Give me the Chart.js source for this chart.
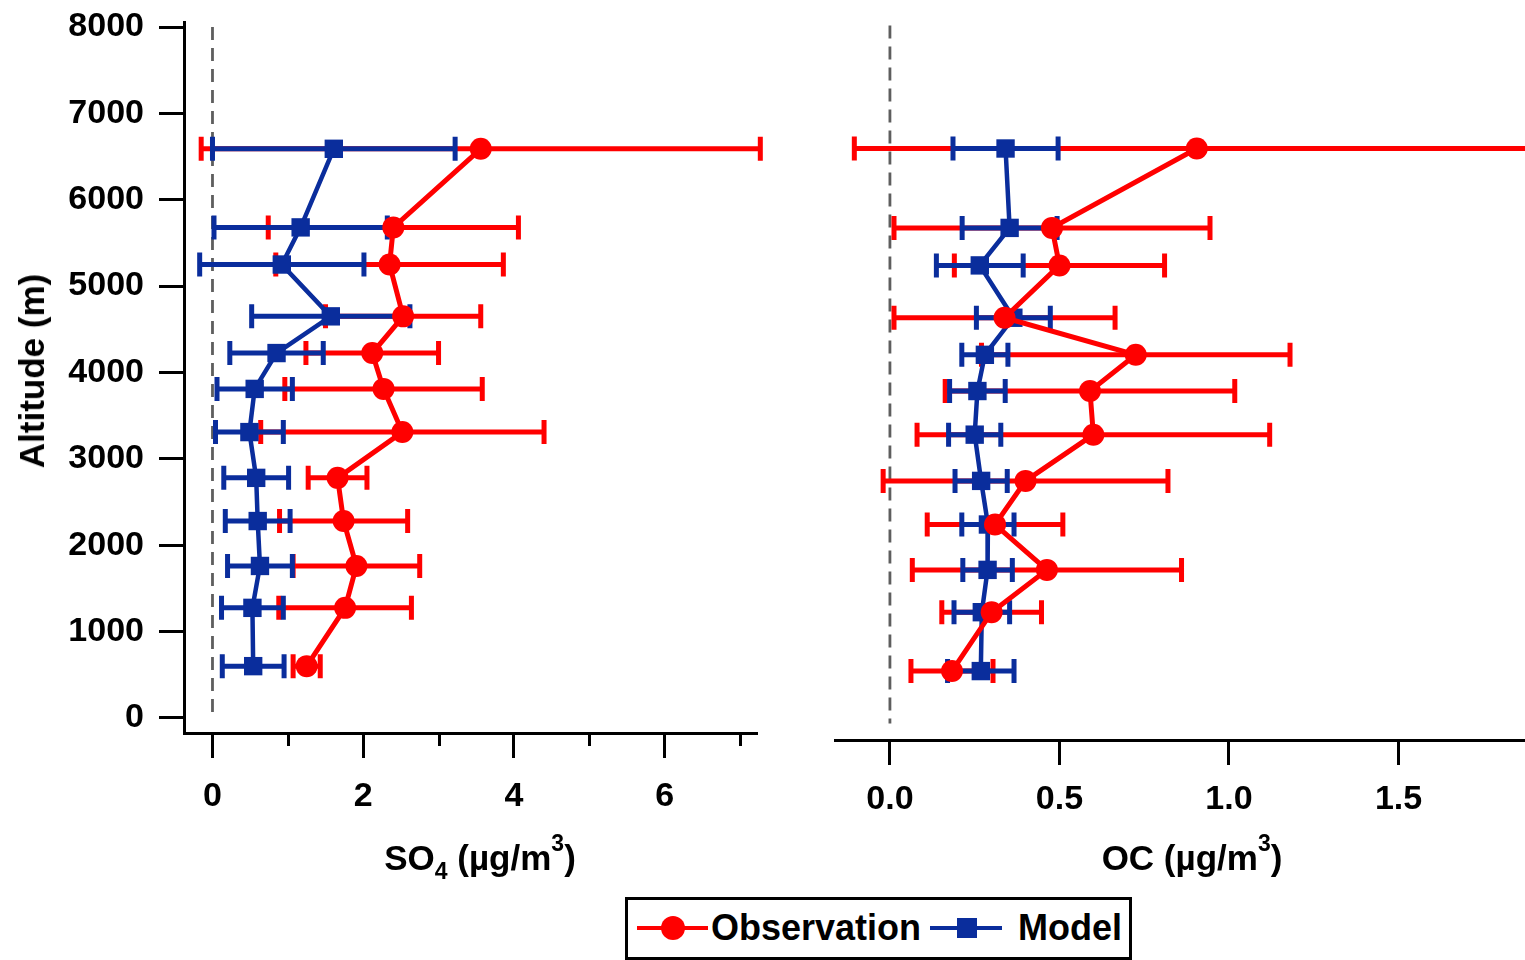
<!DOCTYPE html>
<html>
<head>
<meta charset="utf-8">
<title>SO4 / OC vertical profiles</title>
<script src="https://cdn.jsdelivr.net/npm/chart.js@4.4.1/dist/chart.umd.min.js"></script>
<style>
  html, body { margin: 0; padding: 0; background: #fff; }
  body {
    width: 1525px; height: 960px; overflow: hidden; position: relative;
    font-family: "Liberation Sans", Arial, sans-serif; font-weight: bold; color: #000;
  }
  .panel { position: absolute; top: 0; height: 960px; }
  .xtitle {
    position: absolute; font-size: 35px; line-height: 40px; white-space: nowrap;
    transform: translate(-50%, -50%);
  }
  .xtitle sub, .xtitle sup { font-size: 23px; position: relative; vertical-align: baseline; }
  .xtitle sub { top: 9px; }
  .xtitle sup { top: -19px; }
  .ytitle {
    position: absolute; left: 32px; top: 371px; font-size: 35px; line-height: 40px;
    white-space: nowrap; transform: translate(-50%, -50%) rotate(-90deg);
  }
  #legend {
    position: absolute; left: 625px; top: 897px; width: 501px; height: 57px;
    border: 3px solid #000; background: #fff;
  }
  #legend span { position: absolute; display: block; }
  .lg-text { font-size: 36px; line-height: 40px; top: 8px; white-space: nowrap; }
</style>
</head>
<body>

<div class="panel" style="left:0;width:790px"><canvas id="so4Chart"></canvas></div>
<div class="panel" style="left:790px;width:760px"><canvas id="ocChart"></canvas></div>

<div class="ytitle">Altitude (m)</div>
<div class="xtitle" style="left:480px;top:860px">SO<sub>4</sub> (µg/m<sup>3</sup>)</div>
<div class="xtitle" style="left:1192px;top:860px">OC (µg/m<sup>3</sup>)</div>

<div id="legend">
  <span style="left:9px;top:26px;width:71px;height:4px;background:#ff0000"></span>
  <span style="left:33px;top:16px;width:24px;height:24px;border-radius:50%;background:#ff0000"></span>
  <span class="lg-text" style="left:83px">Observation</span>
  <span style="left:302px;top:26px;width:72px;height:4px;background:#0a2d9c"></span>
  <span style="left:329px;top:18px;width:20px;height:20px;background:#0a2d9c"></span>
  <span class="lg-text" style="left:390px">Model</span>
</div>

<script>
// ---- data ----
const altitude = [6590, 5680, 5250, 4650, 4225, 3810, 3310, 2780, 2280, 1760, 1275, 600];

const so4Obs      = [3.56, 2.40, 2.35, 2.53, 2.12, 2.27, 2.52, 1.66, 1.74, 1.91, 1.76, 1.25];
const so4ObsErr   = [3.71, 1.66, 1.51, 1.03, 0.88, 1.31, 1.88, 0.39, 0.85, 0.84, 0.88, 0.18];
const so4Model    = [1.61, 1.17, 0.92, 1.57, 0.85, 0.56, 0.49, 0.58, 0.60, 0.63, 0.53, 0.54];
const so4ModelErr = [1.61, 1.15, 1.09, 1.05, 0.62, 0.50, 0.45, 0.43, 0.43, 0.43, 0.41, 0.41];

const ocObs      = [0.905, 0.478, 0.50, 0.338, 0.725, 0.59, 0.60, 0.40, 0.31, 0.463, 0.30, 0.183];
const ocObsErr   = [1.01, 0.466, 0.31, 0.326, 0.455, 0.427, 0.52, 0.42, 0.20, 0.397, 0.147, 0.121];
const ocModel    = [0.341, 0.353, 0.265, 0.364, 0.28, 0.258, 0.25, 0.269, 0.289, 0.288, 0.271, 0.268];
const ocModelErr = [0.155, 0.14, 0.128, 0.109, 0.068, 0.082, 0.077, 0.077, 0.077, 0.073, 0.082, 0.098];

const altTicks = [0, 1000, 2000, 3000, 4000, 5000, 6000, 7000, 8000];
const so4Ticks = [0, 2, 4, 6];
const so4MinorTicks = [1, 3, 5, 7];
const ocTicks = [0, 0.5, 1.0, 1.5];

// ---- styling ----
const RED = "#ff0000";
const BLUE = "#0a2d9c";
const FONT = '"Liberation Sans", Arial, sans-serif';

Chart.defaults.font.family = FONT;
Chart.defaults.font.weight = "bold";
Chart.defaults.color = "#000";

const toPoints = (xs) => xs.map((v, i) => ({ x: v, y: altitude[i] }));

// dashed zero line + horizontal error bars, drawn under the lines/markers
const errorBars = {
  id: "errorBars",
  beforeDatasetsDraw(chart) {
    const { ctx } = chart;
    const x = chart.scales.x, y = chart.scales.y;

    ctx.save();
    ctx.strokeStyle = "#5e5e5e";
    ctx.lineWidth = 2.8;
    ctx.setLineDash([13, 8]);
    ctx.beginPath();
    ctx.moveTo(x.getPixelForValue(0), y.getPixelForValue(8000));
    ctx.lineTo(x.getPixelForValue(0), y.getPixelForValue(0));
    ctx.stroke();
    ctx.restore();

    chart.data.datasets.forEach((ds) => {
      ctx.save();
      ctx.strokeStyle = ds.borderColor;
      ctx.lineWidth = 5;
      ds.data.forEach((p, i) => {
        const e = ds.errors[i];
        const py = y.getPixelForValue(p.y);
        const xl = x.getPixelForValue(p.x - e);
        const xr = x.getPixelForValue(p.x + e);
        ctx.beginPath();
        ctx.moveTo(xl, py); ctx.lineTo(xr, py);
        ctx.moveTo(xl, py - 12); ctx.lineTo(xl, py + 12);
        ctx.moveTo(xr, py - 12); ctx.lineTo(xr, py + 12);
        ctx.stroke();
      });
      ctx.restore();
    });
  },
};

// shorter minor ticks on the SO4 axis
const minorTicks = {
  id: "minorTicks",
  afterDraw(chart, args, opts) {
    if (!opts.values) return;
    const { ctx } = chart;
    const x = chart.scales.x;
    ctx.save();
    ctx.strokeStyle = "#000";
    ctx.lineWidth = 3;
    ctx.beginPath();
    opts.values.forEach((v) => {
      const px = Math.round(x.getPixelForValue(v)) + 0.5;
      ctx.moveTo(px, x.top);
      ctx.lineTo(px, x.top + 13);
    });
    ctx.stroke();
    ctx.restore();
  },
};

function datasets(obs, obsErr, model, modelErr) {
  return [
    {
      label: "Observation",
      data: toPoints(obs),
      errors: obsErr,
      showLine: true,
      borderColor: RED,
      backgroundColor: RED,
      borderWidth: 5,
      pointStyle: "circle",
      pointRadius: 11,
      pointBorderWidth: 0,
      tension: 0,
    },
    {
      label: "Model",
      data: toPoints(model),
      errors: modelErr,
      showLine: true,
      borderColor: BLUE,
      backgroundColor: BLUE,
      borderWidth: 4.5,
      pointStyle: "rect",
      pointRadius: 13,
      pointBorderWidth: 0,
      tension: 0,
    },
  ];
}

const tickFont = { size: 34, weight: "bold", family: FONT };
const axisGrid = { drawOnChartArea: false, drawTicks: true, tickLength: 25, tickWidth: 3, tickColor: "#000" };
const axisBorder = { display: true, color: "#000", width: 3 };

function fixHeight(h) {
  return (scale) => {
    scale.height = h;
    scale.paddingLeft = scale.paddingRight = scale.paddingTop = scale.paddingBottom = 0;
  };
}
function fixWidth(w) {
  return (scale) => {
    scale.width = w;
    scale.paddingLeft = scale.paddingRight = scale.paddingTop = scale.paddingBottom = 0;
  };
}

// ---- SO4 panel ----
new Chart(document.getElementById("so4Chart"), {
  type: "scatter",
  data: { datasets: datasets(so4Obs, so4ObsErr, so4Model, so4ModelErr) },
  plugins: [errorBars, minorTicks],
  options: {
    responsive: true,
    maintainAspectRatio: false,
    animation: false,
    layout: { padding: { left: 0, top: 22, right: 33, bottom: 147 } },
    plugins: {
      legend: { display: false },
      tooltip: { enabled: false },
      minorTicks: { values: so4MinorTicks },
    },
    scales: {
      x: {
        type: "linear",
        min: -0.378,
        max: 7.226,
        afterBuildTicks: (s) => { s.ticks = so4Ticks.map((v) => ({ value: v })); },
        afterFit: fixHeight(80),
        ticks: { font: tickFont, padding: 18, maxRotation: 0, callback: (v) => String(v) },
        grid: axisGrid,
        border: axisBorder,
      },
      y: {
        type: "linear",
        min: -174,
        max: 8058,
        afterBuildTicks: (s) => { s.ticks = altTicks.map((v) => ({ value: v })); },
        afterFit: fixWidth(184),
        ticks: { font: tickFont, padding: 15, callback: (v) => String(v) },
        grid: axisGrid,
        border: axisBorder,
      },
    },
  },
});

// ---- OC panel (canvas runs past the window edge so the axis reaches x=1525) ----
new Chart(document.getElementById("ocChart"), {
  type: "scatter",
  data: { datasets: datasets(ocObs, ocObsErr, ocModel, ocModelErr) },
  plugins: [errorBars],
  options: {
    responsive: true,
    maintainAspectRatio: false,
    animation: false,
    layout: { padding: { left: 45, top: 22, right: 25, bottom: 140 } },
    plugins: {
      legend: { display: false },
      tooltip: { enabled: false },
    },
    scales: {
      x: {
        type: "linear",
        min: -0.162,
        max: 1.873,
        afterBuildTicks: (s) => { s.ticks = ocTicks.map((v) => ({ value: v })); },
        afterFit: fixHeight(80),
        ticks: { font: tickFont, padding: 14, maxRotation: 0, callback: (v) => Number(v).toFixed(1) },
        grid: axisGrid,
        border: axisBorder,
      },
      y: {
        type: "linear",
        display: false,
        min: -190,
        max: 8040,
      },
    },
  },
});
</script>
</body>
</html>
